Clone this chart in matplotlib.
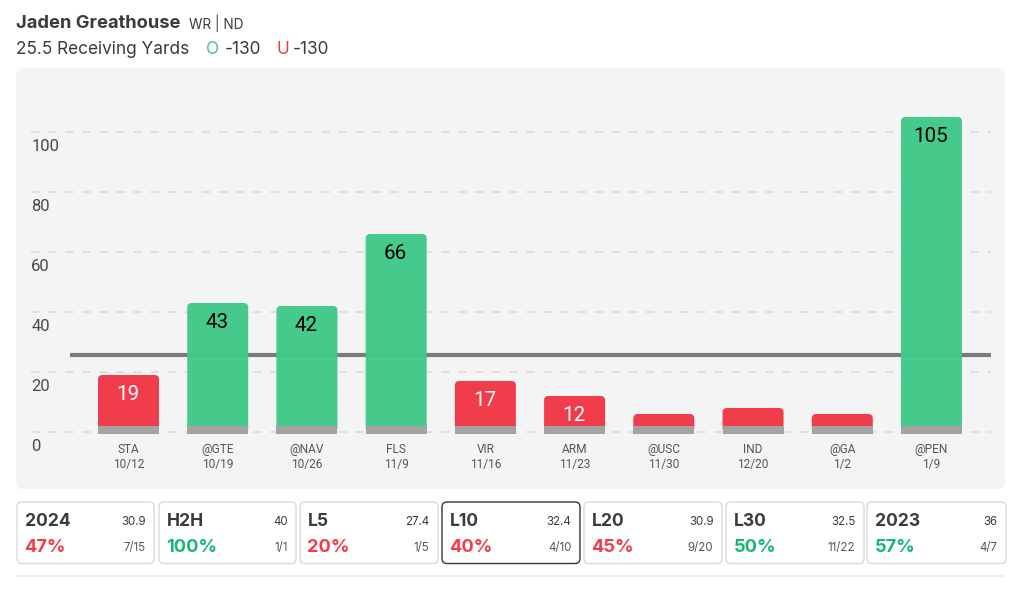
import matplotlib
matplotlib.use('Agg')
from matplotlib import pyplot as plt
from matplotlib.patches import FancyBboxPatch, Rectangle
from matplotlib.transforms import ScaledTranslation

plt.rcParams['font.family'] = 'Inter'

opponents = ['STA', '@GTE', '@NAV', 'FLS', 'VIR', 'ARM', '@USC', 'IND', '@GA', '@PEN']
dates = ['10/12', '10/19', '10/26', '11/9', '11/16', '11/23', '11/30', '12/20', '1/2', '1/9']
yards = [19, 43, 42, 66, 17, 12, 6, 8, 6, 105]
prop_line = 25.5
y_ticks = [0, 20, 40, 60, 80, 100]

card_names = ['2024', 'H2H', 'L5', 'L10', 'L20', 'L30', '2023']
card_avgs = ['30.9', '40', '27.4', '32.4', '30.9', '32.5', '36']
card_pcts = [47, 100, 20, 40, 45, 50, 57]
card_records = ['7/15', '1/1', '1/5', '4/10', '9/20', '11/22', '4/7']
card_left = [17, 159, 300, 442, 584, 726, 867]
card_right = [154, 296, 438, 580, 722, 864, 1006]

GREEN = '#3fc989'
RED = '#f13645'
TEXT_GREEN = '#14b873'
TEXT_RED = '#f23c49'
DARK = '#3a3a40'
PANEL = '#f4f4f4'

fig = plt.figure(figsize=(10.24, 5.89), dpi=100, facecolor='white')

# page furniture in pixel coordinates
bg = fig.add_axes([0, 0, 1, 1], zorder=0)
bg.set_xlim(0, 1024)
bg.set_ylim(589, 0)
bg.axis('off')

bg.add_patch(FancyBboxPatch((16, 68), 989, 421, boxstyle='round,pad=0,rounding_size=7',
                            fc=PANEL, ec='none'))
bg.plot([16, 1005], [575.5, 575.5], color='#eeeeee', lw=1.6, solid_capstyle='butt')

bg.text(16, 23, 'Jaden Greathouse', fontsize=13.2, fontweight='bold', color=DARK, va='center')
bg.text(189, 23.5, 'WR | ND', fontsize=9.8, color=DARK, va='center')
bg.text(16, 49.5, '25.5 Receiving Yards', fontsize=12.4, color=DARK, va='center')
bg.text(206, 49.5, 'O', fontsize=12.4, color=GREEN, va='center')
bg.text(225, 49.5, '-130', fontsize=12.4, color=DARK, va='center')
bg.text(276, 49.5, 'U', fontsize=12.4, color=RED, va='center')
bg.text(293, 49.5, '-130', fontsize=12.4, color=DARK, va='center')

for i in range(len(card_names)):
    left = card_left[i]
    right = card_right[i]
    selected = card_names[i] == 'L10'
    bg.add_patch(FancyBboxPatch((left, 502), right - left, 61.5,
                                boxstyle='round,pad=0,rounding_size=5', fc='white',
                                ec='#33353a' if selected else '#d9d9d9', lw=1.0))
    pct_color = TEXT_GREEN if card_pcts[i] >= 50 else TEXT_RED
    bg.text(left + 8, 521.5, card_names[i], fontsize=12.6, fontweight='bold', color=DARK, va='center')
    bg.text(left + 7.5, 547.5, str(card_pcts[i]) + '%', fontsize=13.2, fontweight='bold',
            color=pct_color, va='center')
    bg.text(right - 8.5, 522, card_avgs[i], fontsize=8.3, color=DARK, va='center', ha='right')
    bg.text(right - 8.5, 548, card_records[i], fontsize=8.3, color='#55565b', va='center', ha='right')

# the chart itself, 3 px per yard, 89.22 px per game
ax = fig.add_axes([16 / 1024, 100 / 589, 989 / 1024, 421 / 589], zorder=1)
ax.patch.set_alpha(0)
ax.set_xlim(-1.261, 9.824)
ax.set_ylim(-19, 121.33)
for s in ax.spines.values():
    s.set_visible(False)

grid_left = (31 - 16) / 989
grid_right = (991 - 16) / 989
for t in y_ticks:
    ax.plot([grid_left, grid_right], [t, t], transform=ax.get_yaxis_transform(),
            color='#e0e0e0', lw=1.5, dashes=(4, 4.2), zorder=1)
ax.plot([(70 - 16) / 989, grid_right], [prop_line, prop_line], transform=ax.get_yaxis_transform(),
        color='#7b7b7b', lw=3, solid_capstyle='butt', zorder=2)

bar_w = 61 / 89.22
aspect = (1 / 3) / (1 / 89.22)
for i, v in enumerate(yards):
    color = GREEN if v > prop_line else RED
    ax.add_patch(FancyBboxPatch((i - bar_w / 2, 0), bar_w, v,
                                boxstyle='round,pad=0,rounding_size=0.05',
                                mutation_aspect=aspect, fc=color, ec='none', alpha=0.97, zorder=3))
    ax.add_patch(Rectangle((i - bar_w / 2, -0.7), bar_w, 2.8, fc='#a3a3a3', ec='none', zorder=4))
    if v >= 10:
        ax.annotate(str(v), (i, v), xytext=(-0.5, -20), textcoords='offset pixels', ha='center',
                    va='center', fontsize=14.8, family='Roboto',
                    color='black' if v > prop_line else 'white', zorder=5)

ax.set_xticks(range(len(opponents)))
ax.set_xticklabels([a + '\n' + b for a, b in zip(opponents, dates)], fontsize=8.6,
                   family='Roboto', color='#55565b', linespacing=1.2)
ax.tick_params(axis='x', length=0, pad=-33.2)

ax.set_yticks(y_ticks)
ax.set_yticklabels([str(t) for t in y_ticks], fontsize=12, family='Roboto', color='#4a4a4f', ha='left')
ax.tick_params(axis='y', length=0, pad=-11)
shift = ScaledTranslation(0, -13 / 100, fig.dpi_scale_trans)
for lbl in ax.get_yticklabels():
    lbl.set_transform(lbl.get_transform() + shift)

fig.savefig('out.png', dpi=100)
